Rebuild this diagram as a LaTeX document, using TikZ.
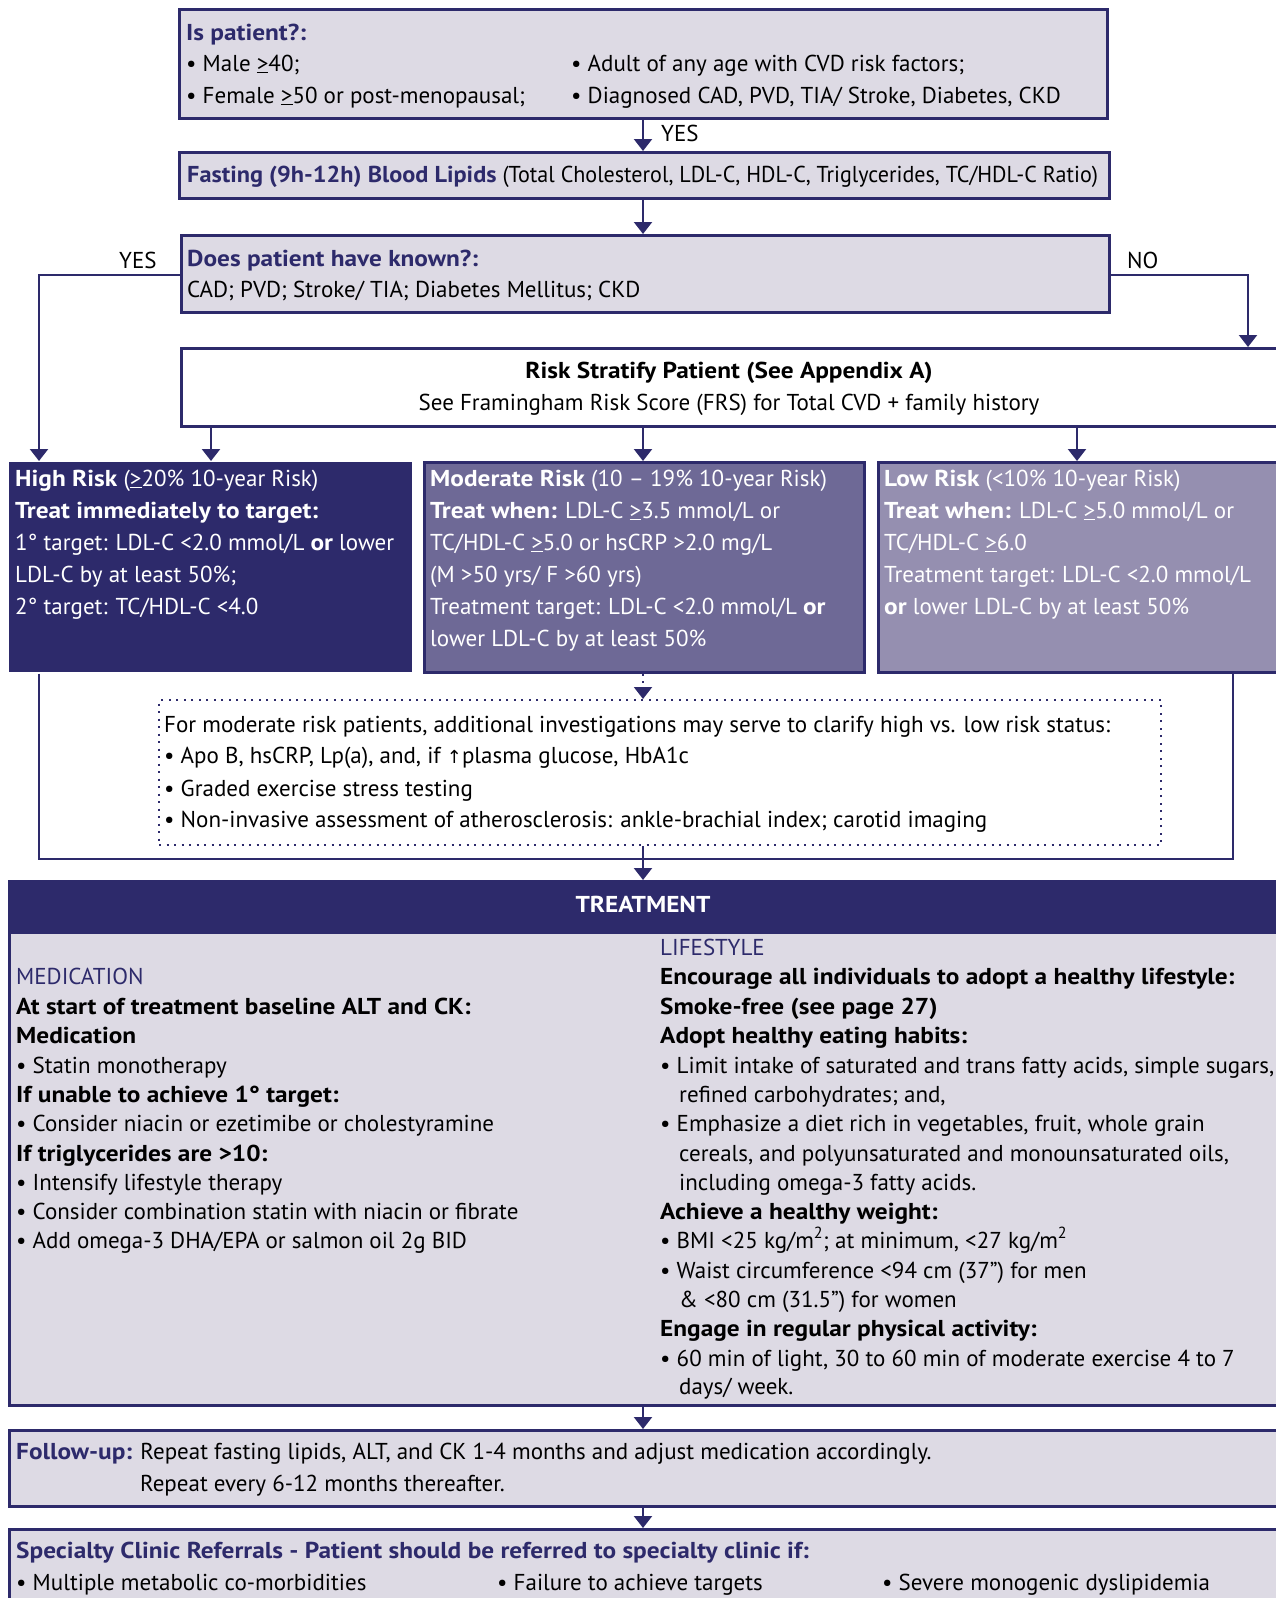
\documentclass[tikz,border=0pt]{standalone}
\usepackage{fontspec}
\setmainfont{PT Sans}[BoldFeatures={FakeStretch=1.10}]
\usetikzlibrary{arrows.meta}
\definecolor{navy}{HTML}{2D2A6B}
\definecolor{lite}{HTML}{DDDAE4}
\definecolor{modc}{HTML}{6E6996}
\definecolor{lowc}{HTML}{958FB0}
\newcommand{\gequ}{\underline{>}}
\newcommand{\fs}{\fontsize{23}{26}\selectfont}
\tikzset{
  box/.style={draw=navy, line width=2.6pt, fill=lite, anchor=north west, inner sep=0pt},
  txt/.style={anchor=base west, inner sep=0pt, font=\fs},
  wtxt/.style={txt, text=white},
  conn/.style={draw=navy, line width=2.2pt},
  arr/.style={conn, -{Triangle[width=18pt,length=12pt]}},
  dotl/.style={draw=navy, line width=2pt, dash pattern=on 2pt off 5.5pt},
}
\newcommand{\nb}[1]{\textbf{\textcolor{navy}{#1}}}
\begin{document}
\begin{tikzpicture}[x=1pt,y=-1pt]
\useasboundingbox (0,0) rectangle (1275,1598);
% boxes
\node[box, minimum width=928pt, minimum height=109pt] (b1) at (178,8) {};
\node[box, minimum width=930pt, minimum height=46pt] (b2) at (178,151) {};
\node[box, minimum width=928pt, minimum height=77pt] (b3) at (180,234) {};
\node[box, fill=white, minimum width=1110pt, minimum height=78pt] (b4) at (180,347) {};
\node[box, draw=none, fill=navy, minimum width=403pt, minimum height=210pt] (high) at (8,461) {};
\node[box, fill=modc, minimum width=440pt, minimum height=210pt] (mod) at (423,461) {};
\node[box, fill=lowc, minimum width=420pt, minimum height=210pt] (low) at (877,461) {};
\node[box, fill=white, dotl, minimum width=1002pt, minimum height=145pt] (dot) at (158,699) {};
\node[box, minimum width=1280pt, minimum height=524pt] (treat) at (8,880) {};
\node[box, fill=navy, minimum width=1280pt, minimum height=51pt] (thead) at (8,880) {};
\node[box, minimum width=1280pt, minimum height=76pt] (fup) at (8,1429) {};
\node[box, minimum width=1280pt, minimum height=90pt] (spec) at (8,1528) {};
% box 1 text
\node[txt] (t1a) at (186,40) {\nb{Is patient?:}};
\node[txt] (t1b) at (186,71) {• Male \gequ40;};
\node[txt] (t1c) at (186,103) {• Female \gequ50 or post-menopausal;};
\node[txt] (t1d) at (571,71) {• Adult of any age with CVD risk factors;};
\node[txt] (t1e) at (571,103) {• Diagnosed CAD, PVD, TIA/ Stroke, Diabetes, CKD};
\node[txt] (yes1) at (661,141) {YES};
% box 2
\node[txt] (t2) at (187,182) {\scalebox{0.96}[1]{\nb{Fasting (9h-12h) Blood Lipids} (Total Cholesterol, LDL-C, HDL-C, Triglycerides, TC/HDL-C Ratio)}};
% box 3
\node[txt] (t3a) at (187,266) {\nb{Does patient have known?:}};
\node[txt] (t3b) at (187,297) {CAD; PVD; Stroke/ TIA; Diabetes Mellitus; CKD};
\node[txt] (yes2) at (119,268) {YES};
\node[txt] (no) at (1127,268) {NO};
% box 4
\node[anchor=base, inner sep=0pt, font=\fs] (t4a) at (729,378) {\textbf{Risk Stratify Patient (See Appendix A)}};
\node[anchor=base, inner sep=0pt, font=\fs] (t4b) at (729,410) {See Framingham Risk Score (FRS) for Total CVD + family history};
% high
\node[wtxt] (h1) at (15,486) {\textbf{High Risk} (\gequ20\% 10-year Risk)};
\node[wtxt] (h2) at (15,518) {\textbf{Treat immediately to target:}};
\node[wtxt] (h3) at (15,550) {1° target: LDL-C <2.0 mmol/L \textbf{or} lower};
\node[wtxt] (h4) at (15,582) {LDL-C by at least 50\%;};
\node[wtxt] (h5) at (15,614) {2° target: TC/HDL-C <4.0};
% moderate
\node[wtxt] (m1) at (430,486) {\textbf{Moderate Risk} (10 – 19\% 10-year Risk)};
\node[wtxt] (m2) at (430,518) {\textbf{Treat when:} LDL-C \gequ3.5 mmol/L or};
\node[wtxt] (m3) at (430,550) {TC/HDL-C \gequ5.0 or hsCRP >2.0 mg/L};
\node[wtxt] (m4) at (430,582) {(M >50 yrs/ F >60 yrs)};
\node[wtxt] (m5) at (430,614) {Treatment target: LDL-C <2.0 mmol/L \textbf{or}};
\node[wtxt] (m6) at (430,646) {lower LDL-C by at least 50\%};
% low
\node[wtxt] (l1) at (884,486) {\textbf{Low Risk} (<10\% 10-year Risk)};
\node[wtxt] (l2) at (884,518) {\textbf{Treat when:} LDL-C \gequ5.0 mmol/L or};
\node[wtxt] (l3) at (884,550) {TC/HDL-C \gequ6.0};
\node[wtxt] (l4) at (884,582) {Treatment target: LDL-C <2.0 mmol/L};
\node[wtxt] (l5) at (884,614) {\textbf{or} lower LDL-C by at least 50\%};
% dotted box
\node[txt] (d1) at (164,732) {For moderate risk patients, additional investigations may serve to clarify high vs. low risk status:};
\node[txt] (d2) at (164,763) {• Apo B, hsCRP, Lp(a), and, if {\fontspec{DejaVu Sans}\fontsize{18}{20}\selectfont ↑}plasma glucose, HbA1c};
\node[txt] (d3) at (164,796) {• Graded exercise stress testing};
\node[txt] (d4) at (164,827) {• Non-invasive assessment of atherosclerosis: ankle-brachial index; carotid imaging};
% treatment
\node[anchor=base, inner sep=0pt, font=\fs, text=white] (th) at (643,912) {\textbf{TREATMENT}};
\node[txt] (c1) at (16,984) {\textcolor{navy}{MEDICATION}};
\node[txt] (c2) at (16,1014) {\textbf{At start of treatment baseline ALT and CK:}};
\node[txt] (c3) at (16,1043) {\textbf{Medication}};
\node[txt] (c4) at (16,1073) {• Statin monotherapy};
\node[txt] (c5) at (16,1102) {\textbf{If unable to achieve 1° target:}};
\node[txt] (c6) at (16,1131) {• Consider niacin or ezetimibe or cholestyramine};
\node[txt] (c7) at (16,1161) {\textbf{If triglycerides are >10:}};
\node[txt] (c8) at (16,1190) {• Intensify lifestyle therapy};
\node[txt] (c9) at (16,1219) {• Consider combination statin with niacin or fibrate};
\node[txt] (c10) at (16,1248) {• Add omega-3 DHA/EPA or salmon oil 2g BID};
\node[txt] (r1) at (660,955) {\textcolor{navy}{LIFESTYLE}};
\node[txt] (r2) at (660,984) {\textbf{Encourage all individuals to adopt a healthy lifestyle:}};
\node[txt] (r3) at (660,1014) {\textbf{Smoke-free (see page 27)}};
\node[txt] (r4) at (660,1043) {\textbf{Adopt healthy eating habits:}};
\node[txt] (r5) at (660,1073) {• Limit intake of saturated and trans fatty acids, simple sugars,};
\node[txt] (r6) at (679,1102) {refined carbohydrates; and,};
\node[txt] (r7) at (660,1131) {• Emphasize a diet rich in vegetables, fruit, whole grain};
\node[txt] (r8) at (679,1161) {cereals, and polyunsaturated and monounsaturated oils,};
\node[txt] (r9) at (679,1190) {including omega-3 fatty acids.};
\node[txt] (r10) at (660,1219) {\textbf{Achieve a healthy weight:}};
\node[txt] (r11) at (660,1248) {• BMI <25 kg/m\textsuperscript{2}; at minimum, <27 kg/m\textsuperscript{2}};
\node[txt] (r12) at (660,1278) {• Waist circumference <94 cm (37”) for men};
\node[txt] (r13) at (679,1307) {\& <80 cm (31.5”) for women};
\node[txt] (r14) at (660,1336) {\textbf{Engage in regular physical activity:}};
\node[txt] (r15) at (660,1366) {• 60 min of light, 30 to 60 min of moderate exercise 4 to 7};
\node[txt] (r16) at (679,1394) {days/ week.};
% follow-up
\node[txt] (f1) at (16,1459) {\nb{Follow-up:} Repeat fasting lipids, ALT, and CK 1-4 months and adjust medication accordingly.};
\node[txt] (f2) at (140,1491) {Repeat every 6-12 months thereafter.};
% specialty
\node[txt] (s1) at (16,1558) {\nb{Specialty Clinic Referrals - Patient should be referred to specialty clinic if:}};
\node[txt] (s2) at (16,1590) {• Multiple metabolic co-morbidities};
\node[txt] (s3) at (497,1590) {• Failure to achieve targets};
\node[txt] (s4) at (882,1590) {• Severe monogenic dyslipidemia};
% coordinates
\coordinate (xc) at (643,0);
\coordinate (xl) at (39,275);
\coordinate (xr) at (1248,275);
\coordinate (xh) at (211,0);
\coordinate (xlo) at (1077,0);
\coordinate (jl) at (39,859);
\coordinate (jr) at (1233,859);
% connectors
\draw[arr] (b1.south -| xc) -- (b2.north -| xc);
\draw[arr] (b2.south -| xc) -- (b3.north -| xc);
\draw[arr] (b3.west |- xl) -- (xl) -- (high.north -| xl);
\draw[arr] (b3.east |- xr) -- (xr) -- (b4.north -| xr);
\draw[arr] (b4.south -| xh) -- (high.north -| xh);
\draw[arr] (b4.south -| xc) -- (mod.north -| xc);
\draw[arr] (b4.south -| xlo) -- (low.north -| xlo);
\draw[dotl, -{Triangle[width=18pt,length=12pt]}] (mod.south -| xc) -- (dot.north -| xc);
\draw[conn] (high.south -| jl) -- (jl) -- (jr) -- (low.south -| jr);
\draw[arr] (dot.south -| xc) -- (treat.north -| xc);
\draw[arr] (treat.south -| xc) -- (fup.north -| xc);
\draw[arr] (fup.south -| xc) -- (spec.north -| xc);
\end{tikzpicture}
\end{document}
